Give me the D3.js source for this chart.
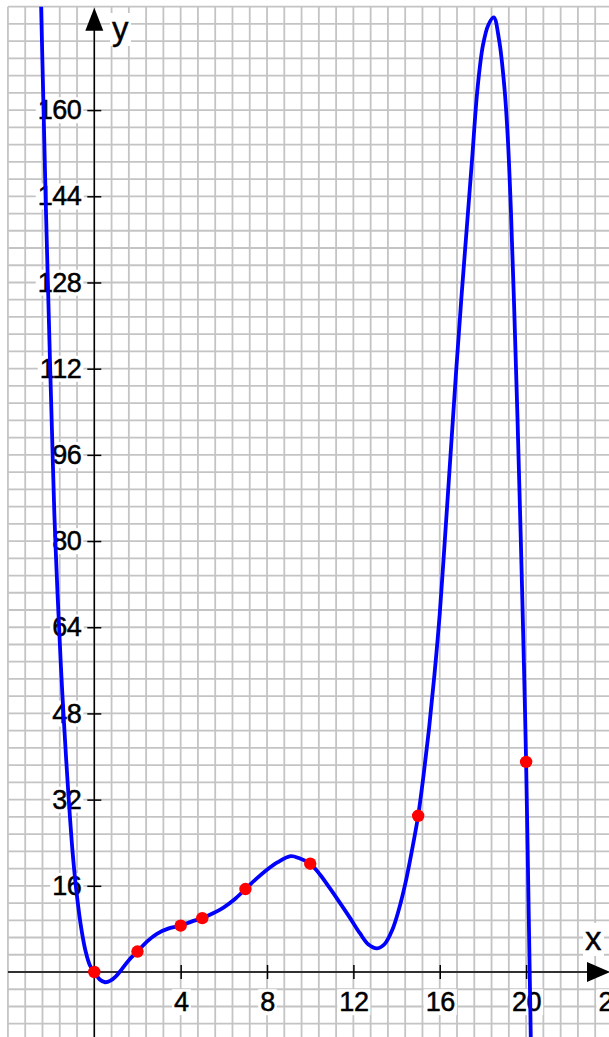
<!DOCTYPE html>
<html lang="en">
<head>
<meta charset="UTF-8">
<title>Graph</title>
<script src="https://d3js.org/d3.v7.min.js"></script>
<style>
  body { margin: 0; background: #fff; }
  svg { display: block; }
  .lbl text { font-family: "Liberation Sans", Arial, sans-serif; font-size: 27px; fill: #000; stroke: #000; stroke-width: 0.5px; letter-spacing: -0.5px; }
  .name { font-family: "Liberation Sans", Arial, sans-serif; font-size: 33px; fill: #000; stroke: #000; stroke-width: 0.4px; }
</style>
</head>
<body>
<svg width="609" height="1037"></svg>
<script>
// values
var curveX = [-2.47, -2.35, -2.25, -2.15, -2.05, -1.95, -1.85, -1.7, -1.55, -1.4, -1.2, -1.0, -0.8, -0.6, -0.4, -0.2,
              0, 0.25, 0.5, 0.75, 1.0, 1.25, 1.6, 2.0, 2.45, 2.9, 3.45, 4.0, 4.5, 5.0, 5.5, 6.0, 6.5, 7.0, 7.5,
              8.0, 8.5, 9.1, 9.5, 10.0, 10.45, 10.9, 11.4, 11.85, 12.3, 12.7, 13.1, 13.45, 13.8, 14.1, 14.4,
              14.7, 15.0, 15.25, 15.5, 15.75, 16.0, 16.25, 16.5, 16.75, 17.0, 17.25, 17.5, 17.75, 18.0, 18.25,
              18.5, 18.75, 19.0, 19.15, 19.3, 19.45, 19.6, 19.75, 19.9, 20.0, 20.1, 20.2, 20.3];
var curveY = [180.5, 160, 143, 128, 113, 99, 85, 70, 57, 46, 33, 22, 14, 8, 3.8, 1.2,
              0, -1.4, -1.9, -1.6, -0.8, 0.4, 2.2, 3.8, 5.7, 7.1, 8.1, 8.6, 9.35, 10.0, 10.9, 12.0, 13.5, 15.4, 17.3,
              19.0, 20.4, 21.5, 21.1, 20.1, 18.1, 15.6, 12.7, 10.0, 7.2, 5.1, 4.4, 5.2, 7.8, 11.5, 16.3,
              22.3, 29.0, 36.5, 45, 55, 66.5, 81, 96, 111, 125, 138, 151, 164, 172, 175.8,
              177.2, 173, 164, 155, 141, 123, 103, 81, 57, 39, 16, -8, -33];
var pointX = [0, 2, 4, 5, 7, 10, 15, 20];
var pointY = [0, 3.8, 8.6, 10, 15.4, 20.1, 29, 39];
var xTicks = [4, 8, 12, 16, 20, 24];
var yTicks = [16, 32, 48, 64, 80, 96, 112, 128, 144, 160];

var W = 609, H = 1037;
var svg = d3.select("svg");

var x = d3.scaleLinear().domain([0, 20]).range([94.3, 526.1]);
var y = d3.scaleLinear().domain([0, 160]).range([972, 110.1]);

// grid: 0.8 units across, 3.2 units up
var gx = d3.range(-5, 31).map(function(k) { return k * 0.8; });
var gy = d3.range(-4, 57).map(function(k) { return k * 3.2; });
var gTop = y(179.2), gLeft = x(-4);

var grid = svg.append("g").attr("stroke", "#c4c4c4").attr("stroke-width", 1.8);
grid.selectAll(".v").data(gx).enter().append("line").attr("class", "v")
  .attr("x1", function(d) { return x(d); }).attr("x2", function(d) { return x(d); })
  .attr("y1", gTop).attr("y2", H);
grid.selectAll(".h").data(gy).enter().append("line").attr("class", "h")
  .attr("x1", gLeft).attr("x2", W)
  .attr("y1", function(d) { return y(d); }).attr("y2", function(d) { return y(d); });

// axis lines + arrows
svg.append("line").attr("x1", x(0)).attr("x2", x(0)).attr("y1", gTop + 10).attr("y2", H)
  .attr("stroke", "#000").attr("stroke-width", 1.5);
svg.append("line").attr("x1", gLeft).attr("x2", W - 10).attr("y1", y(0)).attr("y2", y(0))
  .attr("stroke", "#000").attr("stroke-width", 1.5);
svg.append("path")
  .attr("d", "M" + x(0) + "," + (gTop + 1) + "L" + (x(0) - 9) + "," + (gTop + 24) + "L" + (x(0) + 9) + "," + (gTop + 24) + "Z")
  .attr("fill", "#000");
svg.append("path")
  .attr("d", "M" + (W + 1) + "," + y(0) + "L" + (W - 22) + "," + (y(0) - 10) + "L" + (W - 22) + "," + (y(0) + 10) + "Z")
  .attr("fill", "#000");

function boxes(g) {
  g.select(".domain").remove();
  g.selectAll(".tick line").attr("stroke", "#000").attr("stroke-width", 1.5);
  g.selectAll(".tick text").each(function() {
    var b = this.getBBox();
    d3.select(this.parentNode).insert("rect", "text")
      .attr("x", b.x - 2).attr("y", b.y + 2)
      .attr("width", b.width + 4).attr("height", b.height - 4)
      .attr("fill", "#fff");
  });
}

svg.append("g").attr("class", "lbl")
  .attr("transform", "translate(" + (x(0) + 7) + ",0)")
  .call(d3.axisLeft(y).tickValues(yTicks).tickSize(14).tickPadding(6))
  .call(boxes);

svg.append("g").attr("class", "lbl")
  .attr("transform", "translate(0," + (y(0) - 7) + ")")
  .call(d3.axisBottom(x).tickValues(xTicks).tickSize(14).tickPadding(13))
  .call(boxes);

// axis names
[["y", 112, 40], ["x", 585, 950]].forEach(function(n) {
  var g = svg.append("g");
  var t = g.append("text").attr("class", "name").attr("x", n[1]).attr("y", n[2]).text(n[0]);
  var b = t.node().getBBox();
  g.insert("rect", "text")
    .attr("x", b.x - 2).attr("y", b.y + 3).attr("width", b.width + 4).attr("height", b.height - 4)
    .attr("fill", "#fff");
});

// curve
svg.append("clipPath").attr("id", "clip").append("rect")
  .attr("x", gLeft - 1).attr("y", gTop).attr("width", W - gLeft + 1).attr("height", H - gTop);

var pts = curveX.map(function(d, i) { return [d, curveY[i]]; });
var line = d3.line()
  .x(function(d) { return x(d[0]); })
  .y(function(d) { return y(d[1]); })
  .curve(d3.curveCatmullRom.alpha(0.5));

svg.append("path").datum(pts)
  .attr("clip-path", "url(#clip)")
  .attr("d", line)
  .attr("fill", "none")
  .attr("stroke", "#0000ff")
  .attr("stroke-width", 3.8)
  .attr("stroke-linejoin", "round");

svg.selectAll(".pt").data(pointX).enter().append("circle")
  .attr("cx", function(d) { return x(d); })
  .attr("cy", function(d, i) { return y(pointY[i]); })
  .attr("r", 6.2)
  .attr("fill", "#ff0000");
</script>
</body>
</html>
